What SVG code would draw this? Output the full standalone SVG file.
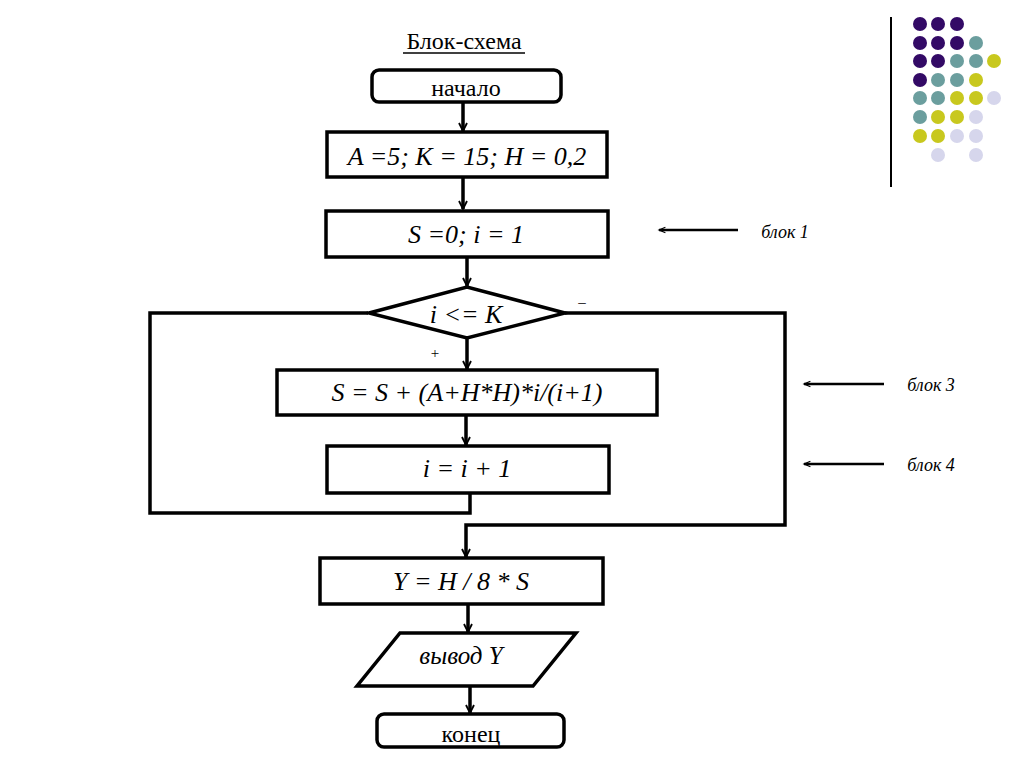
<svg xmlns="http://www.w3.org/2000/svg" width="1024" height="768" viewBox="0 0 1024 768">
<style>
.shape{fill:#fff;stroke:#000;stroke-width:3.5}
.line{fill:none;stroke:#000;stroke-width:3.5}
.thin{fill:none;stroke:#000;stroke-width:2.5}
.p{fill:#330a66}.g{fill:#6b9e9e}.y{fill:#c8c81e}.l{fill:#d6d6ec}
</style>
<defs>
<marker id="ah" viewBox="0 0 10 10" refX="9" refY="5" markerWidth="10" markerHeight="10" markerUnits="userSpaceOnUse" orient="auto">
<path d="M1,1 L9,5 L1,9" fill="none" stroke="#000" stroke-width="1.8"/>
</marker>
<marker id="ah2" viewBox="0 0 10 10" refX="9" refY="5" markerWidth="12" markerHeight="8" markerUnits="userSpaceOnUse" orient="auto">
<path d="M1,1.5 L9,5 L1,8.5" fill="none" stroke="#000" stroke-width="1.5"/>
</marker>
</defs>
<rect width="1024" height="768" fill="#fff"/>

<g id="decor">
<line x1="891" y1="17" x2="891" y2="187" stroke="#000" stroke-width="2"/>
<circle class="p" cx="920" cy="24" r="7"/><circle class="p" cx="938" cy="24" r="7"/><circle class="p" cx="957" cy="24" r="7"/>
<circle class="p" cx="920" cy="43" r="7"/><circle class="p" cx="938" cy="43" r="7"/><circle class="p" cx="957" cy="43" r="7"/><circle class="g" cx="976" cy="43" r="7"/>
<circle class="p" cx="920" cy="61" r="7"/><circle class="p" cx="938" cy="61" r="7"/><circle class="g" cx="957" cy="61" r="7"/><circle class="g" cx="976" cy="61" r="7"/><circle class="y" cx="994" cy="61" r="7"/>
<circle class="p" cx="920" cy="80" r="7"/><circle class="g" cx="938" cy="80" r="7"/><circle class="g" cx="957" cy="80" r="7"/><circle class="y" cx="976" cy="80" r="7"/>
<circle class="g" cx="920" cy="98" r="7"/><circle class="g" cx="938" cy="98" r="7"/><circle class="y" cx="957" cy="98" r="7"/><circle class="y" cx="976" cy="98" r="7"/><circle class="l" cx="994" cy="98" r="7"/>
<circle class="g" cx="920" cy="117" r="7"/><circle class="y" cx="938" cy="117" r="7"/><circle class="y" cx="957" cy="117" r="7"/><circle class="l" cx="976" cy="117" r="7"/>
<circle class="y" cx="920" cy="136" r="7"/><circle class="y" cx="938" cy="136" r="7"/><circle class="l" cx="957" cy="136" r="7"/><circle class="l" cx="976" cy="136" r="7"/>
<circle class="l" cx="938" cy="155" r="7"/><circle class="l" cx="976" cy="155" r="7"/>
</g>

<g font-family="Liberation Serif, Times New Roman, serif" text-anchor="middle" fill="#000">
<g id="title">
<text x="464" y="49" font-size="24">Блок-схема</text>
<line x1="403" y1="53" x2="525" y2="53" stroke="#000" stroke-width="1.3"/>
</g>

<g id="connectors">
<line class="line" x1="463" y1="102" x2="463" y2="131" marker-end="url(#ah)"/>
<line class="line" x1="463" y1="177" x2="463" y2="209" marker-end="url(#ah)"/>
<line class="line" x1="467" y1="257" x2="467" y2="286" marker-end="url(#ah)"/>
<line class="line" x1="467" y1="337" x2="467" y2="369" marker-end="url(#ah)"/>
<line class="line" x1="466" y1="415" x2="466" y2="445" marker-end="url(#ah)"/>
<polyline class="line" points="368,313 150,313 150,513 470,513 470,493"/>
<polyline class="line" points="565,313 785,313 785,525 466,525 466,557" marker-end="url(#ah)"/>
<line class="line" x1="468" y1="604" x2="468" y2="632" marker-end="url(#ah)"/>
<line class="line" x1="470" y1="686" x2="470" y2="713" marker-end="url(#ah)"/>
<line class="thin" x1="738" y1="230" x2="659" y2="230" marker-end="url(#ah2)"/>
<line class="thin" x1="884" y1="384" x2="804" y2="384" marker-end="url(#ah2)"/>
<line class="thin" x1="884" y1="464" x2="804" y2="464" marker-end="url(#ah2)"/>
<text x="435" y="358" font-size="15">+</text>
<text x="582" y="307" font-size="15">–</text>
</g>

<g id="start">
<rect class="shape" x="372" y="70" width="189" height="32" rx="7"/>
<text x="466" y="96" font-size="24">начало</text>
</g>
<g id="init">
<rect class="shape" x="327" y="132" width="280" height="45"/>
<text x="467" y="165" font-size="26" font-style="italic">A =5; K = 15; H = 0,2</text>
</g>
<g id="block1">
<rect class="shape" x="326" y="211" width="282" height="46"/>
<text x="466" y="243" font-size="26" font-style="italic">S =0; i = 1</text>
</g>
<g id="cond">
<polygon class="shape" points="369,313 467,287 565,313 467,338"/>
<text x="466" y="323" font-size="26" font-style="italic">i &lt;= K</text>
</g>
<g id="block3">
<rect class="shape" x="277" y="370" width="380" height="45"/>
<text x="467" y="401" font-size="26" font-style="italic">S = S + (A+H*H)*i/(i+1)</text>
</g>
<g id="block4">
<rect class="shape" x="327" y="446" width="282" height="47"/>
<text x="467" y="477" font-size="26" font-style="italic">i = i + 1</text>
</g>
<g id="result">
<rect class="shape" x="320" y="558" width="283" height="46"/>
<text x="461" y="590" font-size="26" font-style="italic">Y = H / 8 * S</text>
</g>
<g id="output">
<polygon class="shape" points="400,633 576,633 533,686 357,686"/>
<text x="461" y="664" font-size="25" font-style="italic">вывод Y</text>
</g>
<g id="end">
<rect class="shape" x="377" y="714" width="187" height="33" rx="7"/>
<text x="471" y="742" font-size="24">конец</text>
</g>

<g id="labels" font-style="italic" font-size="18">
<text x="785" y="238">блок 1</text>
<text x="931" y="391">блок 3</text>
<text x="931" y="471">блок 4</text>
</g>
</g>
</svg>
